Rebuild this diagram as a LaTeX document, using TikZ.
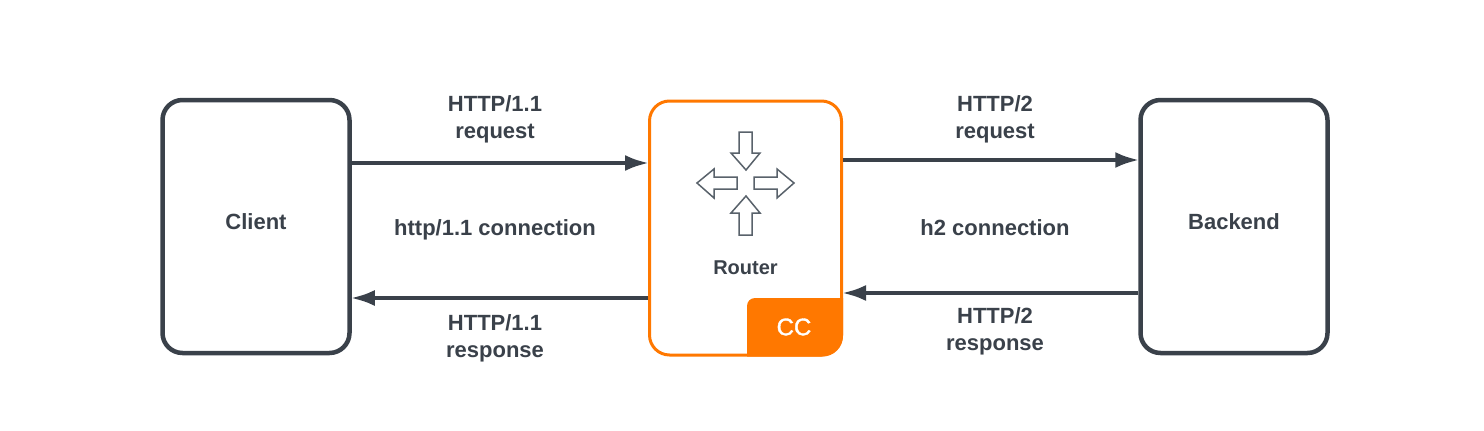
\documentclass[tikz,border=0pt]{standalone}
\usepackage{fontspec}
\setmainfont{Liberation Sans}
\usetikzlibrary{arrows.meta}
\definecolor{ink}{HTML}{3A414A}
\definecolor{orng}{HTML}{FF7800}
\definecolor{icon}{HTML}{59626B}
\tikzset{
  x=1pt,y=-1pt,
  box/.style={draw=ink,line width=4.5pt,rounded corners=20pt,fill=white,minimum width=187pt,minimum height=253pt,inner sep=0pt},
  rbox/.style={draw=orng,line width=3pt,rounded corners=20pt,fill=white,minimum width=192pt,minimum height=254pt,inner sep=0pt},
  txt/.style={text=ink,font=\fontsize{22}{27}\selectfont\bfseries,align=center,inner sep=0pt},
  conn/.style={draw=ink,line width=4pt,-{Latex[length=24pt,width=16pt,inset=0pt]},shorten >=-1pt},
  iconarrow/.style={draw=icon,line width=1.5pt,fill=white,line join=miter}
}
\begin{document}
\begin{tikzpicture}
\useasboundingbox (0,0) rectangle (1484,431);
\fill[white] (0,0) rectangle (1484,431);
\node[box] (client) at (256,226.5) {};
\node[box] (backend) at (1234,226.5) {};
\node[rbox] (router) at (745.5,228) {};
\node[txt] (clientt) at (256,222) {Client};
\node[txt] (backendt) at (1234,222) {Backend};
\node[txt] (routert) at (745.5,267.5) {\fontsize{20}{24}\selectfont Router};
% CC tab
\path[fill=orng] (747,356.5) -- (747,306) arc[start angle=180,end angle=270,radius=8] -- (843,298) -- (843,336) arc[start angle=0,end angle=90,radius=20.5] -- cycle;
\node[font=\fontsize{24}{28}\selectfont\addfontfeature{FakeBold=1.5},text=white,inner sep=0pt] (cc) at (794,327) {CC};
% icon
\draw[iconarrow] (739,132) -- (752,132) -- (752,153) -- (760,153) -- (746,170) -- (731,153) -- (739,153) -- cycle;
\draw[iconarrow] (739,235) -- (752,235) -- (752,213) -- (760,213) -- (746,196) -- (731,213) -- (739,213) -- cycle;
\draw[iconarrow] (737,177) -- (737,189) -- (714,189) -- (714,198) -- (697,183) -- (714,169) -- (714,177) -- cycle;
\draw[iconarrow] (754,177) -- (754,189) -- (777,189) -- (777,198) -- (794,183) -- (777,169) -- (777,177) -- cycle;
% connectors
\coordinate (ya) at (0,163);
\coordinate (yb) at (0,160);
\coordinate (yc) at (0,298);
\coordinate (yd) at (0,293);
\draw[conn] (client.east |- ya) -- (router.west |- ya);
\draw[conn] (router.east |- yb) -- (backend.west |- yb);
\draw[conn] (router.west |- yc) -- (client.east |- yc);
\draw[conn] (backend.west |- yd) -- (router.east |- yd);
% labels
\node[txt] (l1) at (495,119) {HTTP/1.1\\request};
\node[txt] (l2) at (495,230) {http/1.1 connection};
\node[txt] (l3) at (495,338) {HTTP/1.1\\response};
\node[txt] (l4) at (995,119) {HTTP/2\\request};
\node[txt] (l5) at (995,228) {h2 connection};
\node[txt] (l6) at (995,331) {HTTP/2\\response};
\end{tikzpicture}
\end{document}
